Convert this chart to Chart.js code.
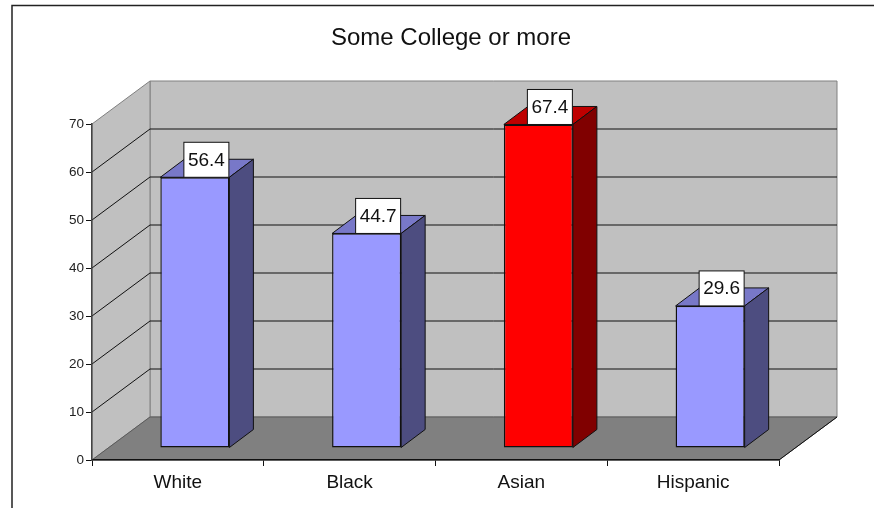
<!DOCTYPE html>
<html>
<head>
<meta charset="utf-8">
<title>Some College or more</title>
<style>
  html, body { margin: 0; padding: 0; background: #fff; }
  canvas { display: block; }
</style>
<script src="https://cdn.jsdelivr.net/npm/chart.js@4/dist/chart.umd.min.js"></script>
</head>
<body>
<canvas id="grafica" width="874" height="508"></canvas>
<script>
const categorias = ["White", "Black", "Asian", "Hispanic"];
const valores = [56.4, 44.7, 67.4, 29.6];
const colorFrente = ["#9999ff", "#9999ff", "#ff0000", "#9999ff"];
const colorArriba = ["#7878c8", "#7878c8", "#bf0000", "#7878c8"];
const colorLado = ["#4d4d80", "#4d4d80", "#800000", "#4d4d80"];

const fuente = "'Liberation Sans', Arial, sans-serif";

// profundidad del piso y de las barras, en pixeles
const pisoX = 58, pisoY = 43;
const barraX = 24, barraY = 18;
const corrX = 17, corrY = 12; // las barras van dentro del piso

function poligono(ctx, puntos, relleno, linea) {
  ctx.beginPath();
  puntos.forEach((p, i) => i ? ctx.lineTo(p[0], p[1]) : ctx.moveTo(p[0], p[1]));
  ctx.closePath();
  if (relleno) { ctx.fillStyle = relleno; ctx.fill(); }
  if (linea) { ctx.strokeStyle = linea; ctx.lineWidth = 1; ctx.stroke(); }
}

const falso3d = {
  id: "falso3d",
  afterLayout(chart) {
    // el titulo va centrado a la derecha del area
    chart.titleBlock.left += 47.5;
    chart.titleBlock.right += 47.5;
  },
  beforeDraw(chart) {
    const ctx = chart.ctx;
    ctx.save();
    ctx.fillStyle = "#fff";
    ctx.fillRect(0, 0, chart.width, chart.height);
    ctx.strokeStyle = "#222";
    ctx.lineWidth = 1.5;
    ctx.beginPath();
    ctx.moveTo(12, chart.height);
    ctx.lineTo(12, 5.5);
    ctx.lineTo(chart.width, 5.5);
    ctx.stroke();
    ctx.restore();
  },
  beforeDatasetsDraw(chart) {
    const ctx = chart.ctx;
    const a = chart.chartArea;
    const y = chart.scales.y;
    ctx.save();
    // paredes
    poligono(ctx, [[a.left + pisoX, a.top - pisoY], [a.right + pisoX, a.top - pisoY],
      [a.right + pisoX, a.bottom - pisoY], [a.left + pisoX, a.bottom - pisoY]], "#c0c0c0", "#808080");
    poligono(ctx, [[a.left, a.top], [a.left + pisoX, a.top - pisoY],
      [a.left + pisoX, a.bottom - pisoY], [a.left, a.bottom]], "#c0c0c0", "#808080");
    // lineas de la grilla
    y.ticks.forEach(t => {
      if (t.value === 0 || t.value === y.max) return;
      const py = y.getPixelForValue(t.value);
      ctx.strokeStyle = "#111";
      ctx.lineWidth = 1;
      ctx.beginPath();
      ctx.moveTo(a.left, py);
      ctx.lineTo(a.left + pisoX, py - pisoY);
      ctx.lineTo(a.right + pisoX, py - pisoY);
      ctx.stroke();
    });
    // piso
    poligono(ctx, [[a.left, a.bottom], [a.left + pisoX, a.bottom - pisoY],
      [a.right + pisoX, a.bottom - pisoY], [a.right, a.bottom]], "#808080", "#5a5a5a");
    ctx.strokeStyle = "#111";
    ctx.beginPath();
    ctx.moveTo(a.right, a.bottom);
    ctx.lineTo(a.right + pisoX, a.bottom - pisoY);
    ctx.stroke();
    ctx.restore();
  },
  beforeDatasetDraw(chart) {
    const ctx = chart.ctx;
    ctx.save();
    ctx.translate(corrX, -corrY);
    chart.getDatasetMeta(0).data.forEach((b, i) => {
      const der = b.x + b.width / 2, izq = b.x - b.width / 2;
      poligono(ctx, [[izq, b.y], [izq + barraX, b.y - barraY], [der + barraX, b.y - barraY], [der, b.y]],
        colorArriba[i], "#111");
      poligono(ctx, [[der, b.y], [der + barraX, b.y - barraY], [der + barraX, b.base - barraY], [der, b.base]],
        colorLado[i], "#111");
    });
  },
  afterDatasetDraw(chart) {
    chart.ctx.restore();
  },
  afterDatasetsDraw(chart) {
    const ctx = chart.ctx;
    ctx.save();
    chart.getDatasetMeta(0).data.forEach((b, i) => {
      // etiqueta blanca con el valor
      const cx = b.x + corrX + 11.5, abajo = b.y - corrY;
      ctx.fillStyle = "#fff";
      ctx.strokeStyle = "#111";
      ctx.lineWidth = 1;
      ctx.fillRect(cx - 22.5, abajo - 35, 45, 35);
      ctx.strokeRect(cx - 22.5, abajo - 35, 45, 35);
      ctx.fillStyle = "#111";
      ctx.font = "19px " + fuente;
      ctx.textAlign = "center";
      ctx.textBaseline = "middle";
      ctx.fillText(valores[i].toFixed(1), cx, abajo - 17);
    });
    ctx.restore();
  }
};

new Chart(document.getElementById("grafica").getContext("2d"), {
  type: "bar",
  data: {
    labels: categorias,
    datasets: [{
      data: valores,
      backgroundColor: colorFrente,
      borderColor: "#111",
      borderWidth: 1.4,
      borderSkipped: false,
      barPercentage: 0.402,
      categoryPercentage: 1,
      clip: false
    }]
  },
  options: {
    responsive: false,
    animation: false,
    devicePixelRatio: 1,
    layout: { padding: { left: 28, right: 95, top: 0, bottom: 0 } },
    plugins: {
      legend: { display: false },
      tooltip: { enabled: false },
      title: {
        display: true,
        text: "Some College or more",
        color: "#111",
        font: { family: fuente, size: 24, weight: "normal" },
        padding: { top: 24, bottom: 71.2 }
      }
    },
    scales: {
      x: {
        afterFit(s) { s.height = 48; },
        border: { color: "#111", width: 1.5, z: 1 },
        grid: { drawOnChartArea: false, drawTicks: true, tickLength: 6, tickColor: "#111", offset: true, z: 1 },
        ticks: { color: "#111", font: { family: fuente, size: 19 }, padding: 5, maxRotation: 0 }
      },
      y: {
        min: 0,
        max: 70,
        afterFit(s) { s.width = 64; },
        border: { color: "#444", width: 1.5, z: 1 },
        grid: { drawOnChartArea: false, drawTicks: true, tickLength: 6, tickColor: "#111", z: 1 },
        ticks: { stepSize: 10, color: "#222", font: { family: fuente, size: 13.5 }, padding: 2 }
      }
    }
  },
  plugins: [falso3d]
});
</script>
</body>
</html>
